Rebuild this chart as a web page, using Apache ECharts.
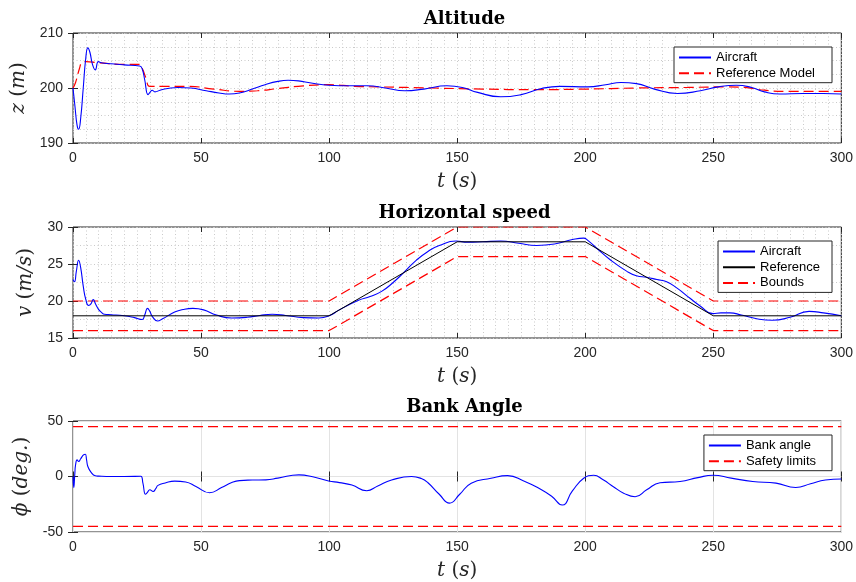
<!DOCTYPE html>
<html>
<head>
<meta charset="utf-8">
<script src="https://cdn.jsdelivr.net/npm/echarts@6/dist/echarts.min.js"></script>
<style>html,body{margin:0;padding:0;background:#fff}#c{width:856px;height:582px}</style>
</head>
<body>
<div id="c"></div>
<script>
// ---------- DATA ----------
const titles = ['Altitude', 'Horizontal speed', 'Bank Angle'];
const timeTicks = [0, 50, 100, 150, 200, 250, 300];
const altTicks = [190, 200, 210];
const speedTicks = [15, 20, 25, 30];
const bankTicks = [-50, 0, 50];

// Altitude: aircraft [t, z]
const altAircraft = [[0,200],[0.8,196.5],[1.6,193.2],[2.2,192.5],[3,194.5],[4,200],[5,205.5],[5.8,207.3],[6.6,206.5],[7.6,204.3],[8.7,203.3],[9.9,204.8],[11,204.6],[15,204.4],[20,204.2],[26,204.0],[27,203.5],[28,201.5],[29.3,198.8],[30.2,199.3],[30.9,199.6],[32,199.3],[34,199.6],[37,199.9],[41,200.1],[46,200.0],[52,199.5],[57,199.1],[61,198.9],[65,199.1],[70,199.8],[75,200.6],[80,201.2],[84,201.4],[88,201.3],[93,200.9],[100,200.5],[108,200.4],[115,200.4],[122,200.0],[129.5,199.5],[137,199.8],[146,200.4],[152,200.1],[158,199.2],[167,198.4],[175,198.8],[183,199.9],[190,200.3],[201,200.2],[208,200.6],[214,201.0],[220,200.8],[227,199.8],[236,199.0],[245,199.5],[252,200.2],[259,200.5],[265,200.1],[270,199.3],[276,198.9],[285,199.0],[293,199.0],[300,198.9]];
// Altitude: reference model [t, z]
const altReference = [[0,200],[1,201],[2.5,203.5],[3.5,204.6],[5,204.8],[10,204.6],[20,204.3],[26,204.3],[27,203.6],[28.5,201.8],[30,200.3],[35,200.3],[45,200.3],[55,199.8],[65,199.4],[72,199.5],[80,199.9],[90,200.4],[100,200.6],[110,200.3],[120,200.2],[140,200.0],[160,199.8],[180,199.7],[200,199.8],[220,200.0],[240,200.1],[255,200.2],[262,200.1],[270,199.6],[278,199.4],[300,199.4]];

// Horizontal speed: aircraft [t, v]
const speedAircraft = [[0,22.9],[0.6,22.6],[1.3,24],[2.2,25.5],[3,24.5],[4,22],[5,20.2],[6.1,19.4],[7,19.6],[7.9,20.2],[8.8,19.6],[9.9,18.9],[11,18.5],[12.3,18.2],[15,18.15],[20,18.0],[24,17.75],[27,17.5],[28,18.1],[29.1,19.0],[30,18.6],[31,17.9],[33,17.3],[35,17.6],[39.7,18.5],[43,18.85],[46.8,19.0],[51,18.8],[56,18.1],[62,17.7],[68,17.8],[73,18.05],[77.8,18.2],[83,18.05],[90,17.75],[96,17.7],[100,18.0],[104,18.8],[111.5,20.1],[116,20.6],[120.5,21.3],[125,22.5],[129.6,24.0],[134,25.5],[138.6,26.7],[143,27.5],[149.6,28.1],[154,27.95],[160,28.0],[167,28.1],[174,27.8],[181,27.5],[188,27.7],[195,28.3],[199.4,28.5],[201,28.2],[204.6,27.1],[210,25.5],[216.3,24.0],[220,23.4],[224,23.2],[228,22.9],[231.8,22.6],[236,21.7],[240.8,20.4],[245,19.3],[249.9,18.3],[253,18.4],[256.5,18.4],[261,18.1],[267,17.6],[273,17.4],[280,17.8],[287.4,18.6],[293,18.4],[300,18.0]];
const speedRefTime = [0, 100, 150, 200, 250, 300];
const speedReference = [18, 18, 28, 28, 18, 18];
const speedUpper = [20, 20, 30, 30, 20, 20];
const speedLower = [16, 16, 26, 26, 16, 16];

// Bank angle [t, phi]
const bankAngle = [[0,0],[0.3,-10],[0.7,2],[1.0,10.4],[1.6,15],[2.2,13.5],[3,16],[4.1,19.4],[4.8,20],[5.3,15],[5.8,9],[7,4],[8.7,0.6],[10,0.3],[15,0],[20,0],[26.5,0.2],[27.3,-6],[28.3,-16],[29,-14.5],[30,-12],[31.3,-13.5],[32.3,-11],[33.2,-8],[36,-5.8],[39.7,-4.2],[44,-5],[48,-9],[53.3,-14.6],[58,-10],[62,-5.5],[65,-3.7],[70,-3.2],[75.3,-3],[80,-1.5],[88.2,1.5],[94,-0.5],[99.8,-4],[104,-5.5],[108.9,-7.7],[114.7,-12.8],[119,-8.5],[124.4,-3.2],[132.2,0],[136,-1.8],[138.6,-5.6],[143,-16],[147,-24],[151,-16],[155.5,-6],[163.2,-1.6],[169.7,0.8],[176,-4],[182.6,-11.5],[187,-18],[191,-25.7],[195,-13],[199.4,-1.6],[203.3,1.1],[207,-3],[211,-9.2],[215,-15],[219.5,-18.2],[224,-12],[229.2,-5.6],[237,-4.5],[244,-1],[249.9,1.1],[257,-1.5],[265.4,-4.5],[274.5,-6],[282.2,-9.9],[288,-6.5],[293.8,-3.1],[300,-2.2]];
const limitTime = [0, 300];
const safetyUpper = [45, 45];
const safetyLower = [-45, -45];

// ---------- CHART ----------
const zip = (a, b) => a.map((x, i) => [x, b[i]]);
const AX = '#262626';
const tickFont = {fontFamily: 'Liberation Sans, Arial, sans-serif', fontSize: 14, color: AX};
const dotGrid = {color: '#cacaca', width: 1, type: [1, 2.5]};
const mathRich = {
  i: {fontFamily: 'DejaVu Serif', fontStyle: 'italic', fontSize: 20, color: AX},
  n: {fontFamily: 'DejaVu Serif', fontSize: 20, color: AX}
};
const gridTops = [33, 227, 421];
const gridH = [110, 111, 111];
const yRanges = [[190, 210, 10, 4], [15, 30, 5, 2], [-50, 50, 50, 0]];
const yNames = ['{i|z }{n|(}{i|m}{n|)}', '{i|v }{n|(}{i|m/s}{n|)}', '{i|ϕ }{n|(}{i|deg.}{n|)}'];
const yGaps = [39, 37, 35];

const grids = [], xAxes = [], yAxes = [], titleArr = [];
for (let i = 0; i < 3; i++) {
  grids.push({left: 73, right: 10, top: gridTops[i], height: gridH[i], show: true,
    borderColor: AX, borderWidth: 1, backgroundColor: '#fff'});
  const minor = i < 2;
  xAxes.push({type: 'value', gridIndex: i, min: 0, max: 300, interval: 50, position: 'bottom',
    axisLine: {show: false}, axisTick: {show: true, inside: true, length: 5, lineStyle: {color: AX}},
    axisLabel: Object.assign({margin: 8}, tickFont),
    splitLine: minor ? {show: true, lineStyle: dotGrid} : {show: true, lineStyle: {color: '#e3e3e3', width: 1}},
    minorTick: {show: false, splitNumber: 10},
    minorSplitLine: {show: minor, lineStyle: dotGrid},
    name: '{i|t }{n|(}{i|s}{n|)}', nameLocation: 'middle', nameGap: 29,
    nameTextStyle: {rich: mathRich}});
  xAxes.push({type: 'value', gridIndex: i, min: 0, max: 300, interval: 50, position: 'top',
    axisLine: {show: false}, axisTick: {show: true, inside: true, length: 5, lineStyle: {color: AX}},
    axisLabel: {show: false}, splitLine: {show: false}});
  const yr = yRanges[i];
  yAxes.push({type: 'value', gridIndex: i, min: yr[0], max: yr[1], interval: yr[2], position: 'left',
    axisLine: {show: false}, axisTick: {show: true, inside: true, length: 5, lineStyle: {color: AX}},
    axisLabel: Object.assign({margin: 10}, tickFont),
    splitLine: minor ? {show: true, lineStyle: dotGrid} : {show: true, lineStyle: {color: '#e3e3e3', width: 1}},
    minorTick: {show: false, splitNumber: yr[3] || 5},
    minorSplitLine: {show: minor, lineStyle: dotGrid},
    name: yNames[i], nameLocation: 'middle', nameGap: yGaps[i], nameRotate: 90,
    nameTextStyle: {rich: mathRich}});
  yAxes.push({type: 'value', gridIndex: i, min: yr[0], max: yr[1], interval: yr[2], position: 'right',
    axisLine: {show: false}, axisTick: {show: true, inside: true, length: 5, lineStyle: {color: AX}},
    axisLabel: {show: false}, splitLine: {show: false}});
  titleArr.push({text: titles[i], left: 459.5, textAlign: 'center', top: gridTops[i] - 28,
    textStyle: {fontFamily: 'DejaVu Serif', fontWeight: 'bold', fontSize: 18, color: '#000'}});
}

function line(name, data, panel, color, dashed, width, smooth) {
  return {type: 'line', name, data, xAxisIndex: panel * 2, yAxisIndex: panel * 2,
    symbol: 'none', showSymbol: false, smooth: smooth ? 0.5 : false,
    lineStyle: {color, width: width || 1, type: dashed ? [10, 5] : 'solid'},
    itemStyle: {color}, animation: false, silent: true, z: dashed ? 3 : 4};
}

const series = [
  line('Aircraft', altAircraft, 0, '#0000ff', false, 1.1, true),
  line('Reference Model', altReference, 0, '#ff0000', true, 1.2, true),
  line('Aircraft', speedAircraft, 1, '#0000ff', false, 1.1, true),
  line('Reference', zip(speedRefTime, speedReference), 1, '#000000', false, 1, false),
  line('Bounds', zip(speedRefTime, speedUpper), 1, '#ff0000', true, 1.2, false),
  line('Bounds', zip(speedRefTime, speedLower), 1, '#ff0000', true, 1.2, false),
  line('Bank angle', bankAngle, 2, '#0000ff', false, 1.1, true),
  line('Safety limits', zip(limitTime, safetyUpper), 2, '#ff0000', true, 1.2, false),
  line('Safety limits', zip(limitTime, safetyLower), 2, '#ff0000', true, 1.2, false)
];

function legend(data, top, padRight) {
  return {data, orient: 'vertical', right: 24, top, itemWidth: 32, itemHeight: 14, itemGap: 2.7,
    padding: [4, padRight, 3, 4], borderColor: AX, borderWidth: 1, backgroundColor: '#fff',
    itemStyle: {opacity: 0, borderWidth: 0},
    textStyle: {fontFamily: 'Liberation Sans, Arial, sans-serif', fontSize: 13, color: '#000'},
    selectedMode: false};
}

const chart = echarts.init(document.getElementById('c'), null, {renderer: 'canvas'});
chart.setOption({
  animation: false,
  backgroundColor: '#fff',
  title: titleArr,
  grid: grids,
  xAxis: xAxes,
  yAxis: yAxes,
  legend: [
    legend(['Aircraft', 'Reference Model'], 47, 17),
    legend(['Aircraft', 'Reference', 'Bounds'], 241, 12),
    legend(['Bank angle', 'Safety limits'], 435, 16)
  ],
  series
});
</script>
</body>
</html>
